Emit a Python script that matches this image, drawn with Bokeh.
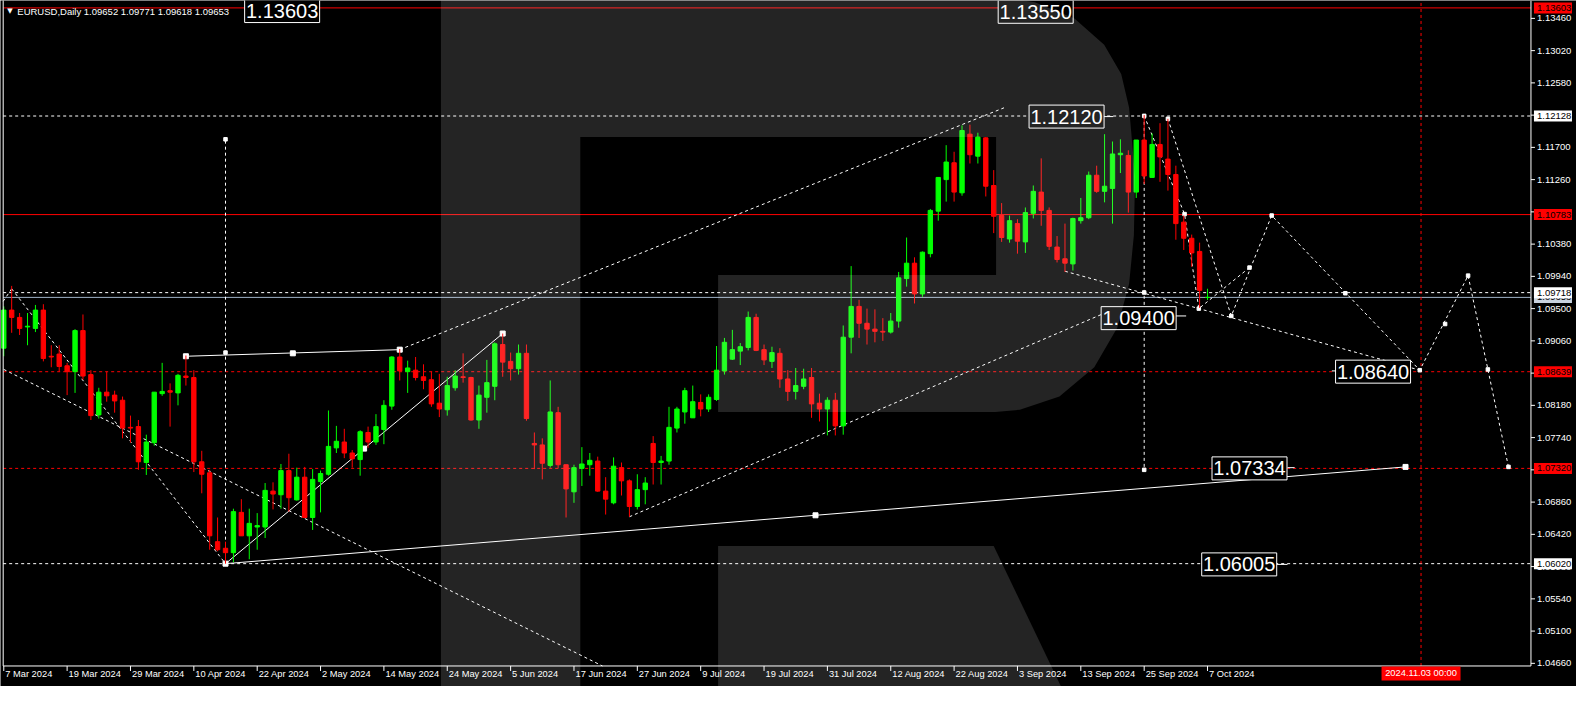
from bokeh.plotting import figure
from bokeh.models import Range1d, ColumnDataSource
from bokeh.embed import file_html
from bokeh.resources import INLINE
from bokeh.core.properties import value

FONT = "Liberation Sans"

# ---------------- data (bar index 0 = 7 Mar 2024, daily bars) ----------------
tick_idx = list(range(0, 153, 8))
tick_labels = ["7 Mar 2024", "19 Mar 2024", "29 Mar 2024", "10 Apr 2024", "22 Apr 2024",
               "2 May 2024", "14 May 2024", "24 May 2024", "5 Jun 2024", "17 Jun 2024",
               "27 Jun 2024", "9 Jul 2024", "19 Jul 2024", "31 Jul 2024", "12 Aug 2024",
               "22 Aug 2024", "3 Sep 2024", "13 Sep 2024", "25 Sep 2024", "7 Oct 2024"]

opens = [
    1.0896, 1.0948, 1.0938, 1.0925, 1.0923, 1.0948, 1.0885, 1.0888, 1.0872, 1.0864,
    1.0920, 1.0860, 1.0805, 1.0836, 1.0832, 1.0825, 1.0788, 1.0789, 1.0740, 1.0767,
    1.0834, 1.0838, 1.0835, 1.0858, 1.0856, 1.0741, 1.0726, 1.0632, 1.0623, 1.0617,
    1.0672, 1.0640, 1.0652, 1.0652, 1.0701, 1.0696, 1.0729, 1.0689, 1.0720, 1.0665,
    1.0714, 1.0724, 1.0760, 1.0768, 1.0753, 1.0744, 1.0781, 1.0768, 1.0785, 1.0817,
    1.0884, 1.0864, 1.0866, 1.0857, 1.0853, 1.0821, 1.0812, 1.0842, 1.0857, 1.0856,
    1.0798, 1.0829, 1.0844, 1.0901, 1.0878, 1.0868, 1.0889, 1.0766, 1.0764, 1.0736,
    1.0808, 1.0737, 1.0700, 1.0732, 1.0737, 1.0742, 1.0701, 1.0685, 1.0733, 1.0715,
    1.0680, 1.0703, 1.0766, 1.0740, 1.0742, 1.0787, 1.0809, 1.0801, 1.0822, 1.0813,
    1.0826, 1.0865, 1.0881, 1.0892, 1.0897, 1.0938, 1.0894, 1.0878, 1.0889, 1.0854,
    1.0837, 1.0844, 1.0856, 1.0821, 1.0813, 1.0825, 1.0790, 1.0911, 1.0953, 1.0930,
    1.0922, 1.0919, 1.0918, 1.0933, 1.0991, 1.1012, 1.0970, 1.1025, 1.1083, 1.1126,
    1.1149, 1.1108, 1.1188, 1.1158, 1.1183, 1.1118, 1.1077, 1.1045, 1.1066, 1.1041,
    1.1080, 1.1109, 1.1084, 1.1034, 1.1018, 1.1011, 1.1070, 1.1074, 1.1132, 1.1110,
    1.1114, 1.1160, 1.1159, 1.1109, 1.1180, 1.1129, 1.1174, 1.1154, 1.1133, 1.1068,
    1.1046, 1.1028, 1.09652]

highs = [
    1.0953, 1.0981, 1.0944, 1.0944, 1.0955, 1.0956, 1.0900, 1.0900, 1.0876, 1.0922,
    1.0942, 1.0866, 1.0842, 1.0864, 1.0838, 1.0830, 1.0804, 1.0798, 1.0778, 1.0836,
    1.0876, 1.0848, 1.0861, 1.0886, 1.0866, 1.0756, 1.0730, 1.0665, 1.0632, 1.0677,
    1.0690, 1.0677, 1.0671, 1.0712, 1.0713, 1.0738, 1.0752, 1.0733, 1.0734, 1.0731,
    1.0729, 1.0811, 1.0790, 1.0786, 1.0757, 1.0784, 1.0789, 1.0806, 1.0825, 1.0885,
    1.0895, 1.0879, 1.0884, 1.0874, 1.0864, 1.0861, 1.0857, 1.0866, 1.0889, 1.0857,
    1.0845, 1.0880, 1.0904, 1.0916, 1.0890, 1.0901, 1.0901, 1.0781, 1.0773, 1.0852,
    1.0816, 1.0737, 1.0737, 1.0761, 1.0753, 1.0748, 1.0720, 1.0747, 1.0740, 1.0717,
    1.0724, 1.0720, 1.0776, 1.0749, 1.0816, 1.0816, 1.0842, 1.0845, 1.0833, 1.0833,
    1.0899, 1.0910, 1.0921, 1.0903, 1.0946, 1.0943, 1.0901, 1.0898, 1.0896, 1.0866,
    1.0869, 1.0868, 1.0869, 1.0834, 1.0829, 1.0835, 1.0927, 1.1008, 1.0962, 1.0950,
    1.0949, 1.0937, 1.0944, 1.1000, 1.1047, 1.1020, 1.1028, 1.1086, 1.1129, 1.1173,
    1.1164, 1.1200, 1.1201, 1.1190, 1.1184, 1.1139, 1.1094, 1.1077, 1.1072, 1.1088,
    1.1118, 1.1155, 1.1088, 1.1049, 1.1066, 1.1074, 1.1101, 1.1137, 1.1145, 1.1188,
    1.1178, 1.1181, 1.1166, 1.1180, 1.1214, 1.1189, 1.1203, 1.1209, 1.1145, 1.1077,
    1.1051, 1.1040, 1.09771]

lows = [
    1.0885, 1.0917, 1.0914, 1.0900, 1.0918, 1.0878, 1.0870, 1.0864, 1.0832, 1.0835,
    1.0853, 1.0798, 1.0800, 1.0823, 1.0808, 1.0773, 1.0767, 1.0730, 1.0723, 1.0763,
    1.0831, 1.0789, 1.0818, 1.0845, 1.0727, 1.0698, 1.0621, 1.0619, 1.0602, 1.0604,
    1.0640, 1.0608, 1.0621, 1.0637, 1.0676, 1.0677, 1.0673, 1.0688, 1.0664, 1.0648,
    1.0672, 1.0722, 1.0753, 1.0746, 1.0733, 1.0722, 1.0760, 1.0764, 1.0765, 1.0812,
    1.0852, 1.0835, 1.0852, 1.0840, 1.0816, 1.0802, 1.0804, 1.0838, 1.0849, 1.0797,
    1.0786, 1.0808, 1.0825, 1.0857, 1.0852, 1.0860, 1.0797, 1.0731, 1.0717, 1.0733,
    1.0732, 1.0665, 1.0685, 1.0708, 1.0722, 1.0700, 1.0669, 1.0683, 1.0695, 1.0666,
    1.0676, 1.0683, 1.0710, 1.0710, 1.0737, 1.0781, 1.0793, 1.0801, 1.0803, 1.0809,
    1.0824, 1.0860, 1.0880, 1.0873, 1.0893, 1.0892, 1.0873, 1.0869, 1.0842, 1.0824,
    1.0826, 1.0840, 1.0801, 1.0796, 1.0777, 1.0777, 1.0778, 1.0889, 1.0910, 1.0901,
    1.0904, 1.0906, 1.0916, 1.0924, 1.0980, 1.0957, 1.0966, 1.1020, 1.1070, 1.1096,
    1.1096, 1.1104, 1.1148, 1.1148, 1.1103, 1.1053, 1.1041, 1.1040, 1.1025, 1.1026,
    1.1073, 1.1063, 1.1030, 1.1013, 1.1000, 1.1002, 1.1066, 1.1072, 1.1108, 1.1095,
    1.1066, 1.1135, 1.1081, 1.1101, 1.1120, 1.1129, 1.1123, 1.1111, 1.1044, 1.1030,
    1.1007, 1.0951, 1.09618]

closes = [
    1.0948, 1.0938, 1.0923, 1.0926, 1.0948, 1.0882, 1.0884, 1.0871, 1.0864, 1.0920,
    1.0858, 1.0804, 1.0836, 1.0831, 1.0824, 1.0787, 1.0787, 1.0741, 1.0768, 1.0836,
    1.0837, 1.0836, 1.0859, 1.0856, 1.0741, 1.0724, 1.0640, 1.0621, 1.0617, 1.0673,
    1.0640, 1.0657, 1.0654, 1.0702, 1.0697, 1.0729, 1.0692, 1.0720, 1.0665, 1.0717,
    1.0725, 1.0762, 1.0769, 1.0753, 1.0745, 1.0782, 1.0768, 1.0789, 1.0818, 1.0884,
    1.0865, 1.0869, 1.0856, 1.0852, 1.0820, 1.0813, 1.0845, 1.0858, 1.0856, 1.0798,
    1.0832, 1.0849, 1.0902, 1.0877, 1.0868, 1.0889, 1.0800, 1.0764, 1.0739, 1.0809,
    1.0737, 1.0704, 1.0733, 1.0738, 1.0743, 1.0701, 1.0690, 1.0735, 1.0715, 1.0680,
    1.0703, 1.0712, 1.0740, 1.0742, 1.0788, 1.0813, 1.0838, 1.0823, 1.0813, 1.0829,
    1.0866, 1.0904, 1.0894, 1.0898, 1.0938, 1.0893, 1.0880, 1.0890, 1.0854, 1.0837,
    1.0845, 1.0854, 1.0820, 1.0813, 1.0825, 1.0790, 1.0911, 1.0953, 1.0930, 1.0922,
    1.0919, 1.0918, 1.0933, 1.0992, 1.1012, 1.0970, 1.1027, 1.1084, 1.1129, 1.1150,
    1.1109, 1.1193, 1.1160, 1.1184, 1.1117, 1.1076, 1.1047, 1.1070, 1.1042, 1.1081,
    1.1110, 1.1084, 1.1035, 1.1017, 1.1012, 1.1073, 1.1074, 1.1132, 1.1110, 1.1117,
    1.1161, 1.1162, 1.1109, 1.1180, 1.1131, 1.1174, 1.1157, 1.1133, 1.1066, 1.1046,
    1.1026, 1.0975, 1.09653]

# horizontal price levels (drawn in this order; later labels cover earlier ones)
level_prices = [1.13603, 1.12128, 1.10783, 1.09653, 1.09718, 1.08639, 1.07320, 1.06020]
level_colors = ["#ff0000", "white", "#ff0000", "#9db0c5", "white", "#ff0000", "#ff0000", "white"]
level_dashes = ["solid", "3 3", "solid", "solid", "3 3", "3 3", "3 3", "3 3"]
level_label_bg = ["#ff0000", "white", "#ff0000", "#c8d2de", "white", "#ff0000", "#ff0000", "white"]

y_ticks = [round(1.0466 + 0.0044 * k, 5) for k in range(21)]

# analysis objects (bar index, price)
dashed_lines = [
    ([-0.075, 1.0], [1.0960, 1.0977]),
    ([1.0, 28.0], [1.0977, 1.0602]),
    ([0.0, 75.6], [1.0867, 1.04624]),
    ([50.0, 126.3], [1.0894, 1.1224]),
    ([79.0, 138.6], [1.0666, 1.0942]),
    ([134.0, 178.8], [1.1001, 1.0866]),
    ([28.0, 28.0], [1.0602, 1.1181]),
    ([144.0, 144.0], [1.1213, 1.0730]),
    ([144.0, 149.1, 150.9, 157.3], [1.1213, 1.1079, 1.0950, 1.1006]),
    ([147.0, 155.0, 160.1, 178.8, 184.9, 190.0], [1.1209, 1.0940, 1.1077, 1.0866, 1.0995, 1.0734]),
]
solid_lines = [
    ([23.0, 50.0], [1.0885, 1.0894]),
    ([28.0, 63.0], [1.0602, 1.0916]),
    ([28.0, 177.0], [1.0602, 1.0734]),
]
square_x = [23.0, 36.5, 50.0, 45.5, 63.0, 28.0, 102.5, 177.0]
square_y = [1.0885, 1.0889, 1.0894, 1.0759, 1.0916, 1.0602, 1.0668, 1.0734]
mark_x = [28.0, 28.0, 144.0, 147.0, 149.1, 150.9, 144.0, 155.0, 157.3, 160.1, 169.4,
          178.8, 182.0, 184.9, 187.4, 190.0, 144.0]
mark_y = [1.1181, 1.0890, 1.1213, 1.1209, 1.1079, 1.0950, 1.0972, 1.0940, 1.1006, 1.1077,
          1.0971, 1.0866, 1.0929, 1.0995, 1.0867, 1.0734, 1.0730]

box_text = ["1.13603", "1.13550", "1.12120", "1.09400", "1.08640", "1.07334", "1.06005"]
box_x = [35.15, 130.3, 134.2, 143.3, 172.9, 157.3, 156.0]
box_y = [1.1356, 1.1355, 1.1212, 1.0937, 1.0864, 1.0732, 1.0601]
anchor_x0 = [138.9, 147.8, 167.7, 162.1, 160.7]
anchor_x1 = [140.1, 149.3, 168.4, 163.0, 162.1]
anchor_y = [1.1212, 1.0940, 1.0865, 1.0733, 1.0601]

vline_time = 178.96
vline_label = "2024.11.03 00:00"

# watermark logo outline (bar index, price)
logo_a_x = [55.2, 124.6, 130.2, 135.2, 138.95, 141.1, 142.1, 142.85, 142.7, 142.1, 140.6,
            137.7, 133.3, 128.3, 125.2, 90.2, 90.2, 125.3, 125.3, 72.8, 72.8, 55.2]
logo_a_y = [1.1377, 1.1377, 1.1368, 1.1346, 1.1310, 1.1270, 1.1224, 1.1130, 1.1050, 1.0984,
            1.0924, 1.0870, 1.0830, 1.0812, 1.0809, 1.0809, 1.0996, 1.0996, 1.1184, 1.1184,
            1.0420, 1.0420]
logo_b_x = [90.2, 125.0, 133.96, 90.2]
logo_b_y = [1.0626, 1.0626, 1.0424, 1.0424]

header = "EURUSD,Daily  1.09652 1.09771 1.09618 1.09653"

# ---------------- figure: the whole canvas is the data frame ----------------
n = len(opens)
assert len(highs) == n and len(lows) == n and len(closes) == n

CX0, CX1 = -0.4125, 198.59
CY0, CY1 = 1.04344, 1.13704
X_L, X_R = -0.075, 192.84
P_BOT, P_TOP = 1.04624, 1.13677
PX = 1.0 / 7.92       # bars per pixel
PY = 1.0 / 7329.0     # price per pixel

p = figure(width=1576, height=686, x_range=Range1d(CX0, CX1), y_range=Range1d(CY0, CY1),
           x_axis_location=None, y_axis_location=None,
           output_backend="svg", toolbar_location=None,
           background_fill_color="black", border_fill_color="black",
           min_border_left=0, min_border_right=0, min_border_top=0, min_border_bottom=0)
p.outline_line_color = None
p.grid.visible = False

# horizontal levels
for v, c, d in zip(level_prices, level_colors, level_dashes):
    p.line([X_L, X_R], [v, v], line_color=c, line_width=1, line_dash=d)

# vertical time line
p.line([vline_time, vline_time], [P_BOT, P_TOP], line_color="#ff0000", line_width=1, line_dash="3 3")

for xs, ys in dashed_lines:
    p.line(xs, ys, line_color="white", line_width=1, line_dash="3 3")
for xs, ys in solid_lines:
    p.line(xs, ys, line_color="white", line_width=1)

p.scatter(square_x, square_y, marker="square", size=5, fill_color="white", line_color="white")
p.scatter(mark_x, mark_y, marker="square", size=3.5, fill_color="white", line_color="white")
p.segment(x0=anchor_x0, y0=anchor_y, x1=anchor_x1, y1=anchor_y, line_color="white", line_width=1)

# candles
colors = ["#00ff00" if c >= o else "#ff0000" for o, c in zip(opens, closes)]
src = ColumnDataSource(dict(
    x=list(range(n)), o=opens, h=highs, l=lows, c=closes,
    top=[max(o, c) for o, c in zip(opens, closes)],
    bot=[min(o, c) for o, c in zip(opens, closes)],
    col=colors))
p.segment(x0="x", y0="l", x1="x", y1="h", line_color="col", line_width=1, source=src)
p.vbar(x="x", width=0.55, top="top", bottom="bot", fill_color="col", line_color="col", source=src)

# chart frame lines (left, bottom, right)
p.line([X_L, X_L], [P_BOT, P_TOP + 0.001], line_color="white", line_width=1)
p.line([X_L, X_R], [P_BOT, P_BOT], line_color="white", line_width=1)
p.line([X_R, X_R], [P_BOT, CY1], line_color="white", line_width=1)

# price axis: ticks and labels
p.segment(x0=[X_R] * len(y_ticks), y0=y_ticks, x1=[X_R + 4 * PX] * len(y_ticks), y1=y_ticks,
          line_color="white", line_width=1)
p.text(x=[X_R + 6 * PX] * len(y_ticks), y=y_ticks, text=[f"{v:.5f}" for v in y_ticks],
       text_align="left", text_baseline="middle", text_font=value(FONT),
       text_font_size="9.5px", text_color="white")

# price level labels on the axis, each box with its own text so later ones cover earlier
for v, bg in zip(level_prices, level_label_bg):
    p.rect(x=[X_R + 22 * PX], y=[v], width=[38], height=[11],
           width_units="screen", height_units="screen", fill_color=bg, line_color=None)
    p.text(x=[X_R + 6 * PX], y=[v], text=[f"{v:.5f}"],
           text_align="left", text_baseline="middle", text_font=value(FONT),
           text_font_size="9.5px", text_color="black")

# time axis: ticks and date labels
p.segment(x0=tick_idx, y0=[P_BOT] * len(tick_idx), x1=tick_idx, y1=[P_BOT - 5 * PY] * len(tick_idx),
          line_color="white", line_width=1)
p.text(x=[t + 1.5 * PX for t in tick_idx], y=[P_BOT - 3 * PY] * len(tick_idx), text=tick_labels,
       text_align="left", text_baseline="top", text_font=value(FONT),
       text_font_size="9.3px", text_color="white")
p.rect(x=[vline_time], y=[P_BOT - 7.5 * PY], width=[79], height=[14],
       width_units="screen", height_units="screen", fill_color="#ff0000", line_color=None)
p.text(x=[vline_time], y=[P_BOT - 7.5 * PY], text=[vline_label], text_align="center",
       text_baseline="middle", text_font=value(FONT), text_font_size="9.3px", text_color="white")

# header
p.text(x=[0.78], y=[1.13557], text=["\u25bc"], text_align="center", text_baseline="middle",
       text_font=value("DejaVu Sans"), text_font_size="7px", text_color="white")
p.text(x=[1.71], y=[1.13557], text=[header], text_align="left", text_baseline="middle",
       text_font=value(FONT), text_font_size="9.5px", text_color="white")

# price boxes
p.rect(x=box_x, y=box_y, width=[75] * len(box_x), height=[23] * len(box_x),
       width_units="screen", height_units="screen",
       fill_color="black", line_color="white", line_width=1)
p.text(x=box_x, y=box_y, text=box_text, text_align="center", text_baseline="middle",
       text_font=value(FONT), text_font_size="20px", text_color="white")

# watermark
p.patch(logo_a_x, logo_a_y, fill_color="white", fill_alpha=0.14, line_color=None)
p.patch(logo_b_x, logo_b_y, fill_color="white", fill_alpha=0.14, line_color=None)

open("out.html", "w").write(file_html(p, INLINE))
